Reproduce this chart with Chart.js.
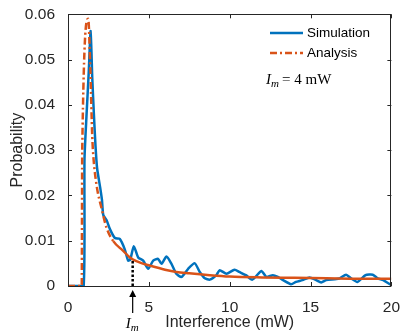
<!DOCTYPE html>
<html><head><meta charset="utf-8">
<script src="https://cdn.jsdelivr.net/npm/chart.js@4"></script>
<style>html,body{margin:0;padding:0;background:#fff}#wrap{width:404px;height:336px}</style>
</head><body><div id="wrap"><canvas id="c" width="404" height="336"></canvas></div>
<script>
const simX = [0,0.5,0.97,1.02,1.15,1.28,1.4,1.5,1.6,1.7,1.8,2.0,2.1,2.18,2.39,2.6,2.9,3.2,3.5,3.72,3.85,4.07,4.34,4.65,4.96,5.27,5.57,5.78,6.09,6.4,6.7,7.02,7.43,7.84,8.15,8.46,8.77,9.18,9.38,9.8,10.3,10.6,11.0,11.4,11.96,12.27,12.67,12.98,13.3,13.8,14.1,14.5,14.94,15.35,15.66,15.97,16.5,16.8,17.2,17.5,17.9,18.4,18.85,19.15,19.5,19.9,20];
const simY = [0,0,0,0.028,0.038,0.047,0.0563,0.046,0.038,0.031,0.026,0.0215,0.019,0.0157,0.0145,0.0125,0.0106,0.0104,0.0082,0.0056,0.0058,0.0088,0.0063,0.0056,0.0038,0.0056,0.006,0.0049,0.0065,0.0049,0.0027,0.002,0.0038,0.005,0.0031,0.0017,0.0014,0.0024,0.0035,0.0027,0.0036,0.0031,0.0024,0.0014,0.0033,0.002,0.0024,0.002,0.0013,0.0004,0.0009,0.0013,0.0019,0.0013,0.0008,0.0013,0.0015,0.0017,0.0025,0.0017,0.0009,0.0024,0.0025,0.0017,0.0013,0.0004,0.0004];
const anaX = [0,0.85,0.88,1.25,1.38,1.5,1.56,1.77,2.08,2.39,2.8,3.4,3.83,4,4.5,5.06,6,6.7,7.5,8.77,10,12,14,16,18,20];
const anaY = [0,0,0.03,0.059,0.048,0.033,0.029,0.0222,0.0171,0.0128,0.0099,0.0078,0.0063,0.0059,0.0051,0.0045,0.0036,0.0031,0.0028,0.0024,0.0021,0.0019,0.0018,0.0017,0.0016,0.0016];
const xTicks = [0,5,10,15,20];
const yTicks = [0,0.01,0.02,0.03,0.04,0.05,0.06];
const seriesNames = ['Simulation','Analysis'];
const markerX = 4;
const markerY = 0.0059;

const BLUE = '#0072BD', RED = '#D95319';
const SANS = '"Liberation Sans", Arial, sans-serif';
const SERIF = '"Liberation Serif", "Times New Roman", serif';

const deco = {
  id: 'deco',
  afterDatasetsDraw(chart) {
    const {ctx, chartArea: a, scales: {x, y}} = chart;
    ctx.save();
    ctx.strokeStyle = '#000'; ctx.lineWidth = 2.5; ctx.setLineDash([2.5, 2]);
    const mx = x.getPixelForValue(markerX);
    ctx.beginPath(); ctx.moveTo(mx, y.getPixelForValue(0)); ctx.lineTo(mx, y.getPixelForValue(markerY)); ctx.stroke();
    ctx.setLineDash([]);
    ctx.strokeStyle = '#262626'; ctx.lineWidth = 1;
    ctx.strokeRect(Math.round(a.left)+0.5, Math.round(a.top)+0.5, Math.round(a.right-a.left)-1, Math.round(a.bottom-a.top));
    ctx.beginPath();
    xTicks.forEach(v => { const p = Math.round(x.getPixelForValue(v))+0.5; ctx.moveTo(p, a.bottom); ctx.lineTo(p, a.bottom-4); ctx.moveTo(p, a.top); ctx.lineTo(p, a.top+4); });
    yTicks.forEach(v => { const p = Math.round(y.getPixelForValue(v))+0.5; ctx.moveTo(a.left, p); ctx.lineTo(a.left+4, p); ctx.moveTo(a.right, p); ctx.lineTo(a.right-4, p); });
    ctx.stroke();
    ctx.strokeStyle = '#000'; ctx.fillStyle = '#000'; ctx.lineWidth = 1.2;
    ctx.beginPath(); ctx.moveTo(mx, a.bottom+27); ctx.lineTo(mx, a.bottom+9); ctx.stroke();
    ctx.beginPath(); ctx.moveTo(mx, a.bottom+4); ctx.lineTo(mx-3.5, a.bottom+11); ctx.lineTo(mx+3.5, a.bottom+11); ctx.closePath(); ctx.fill();
    ctx.textBaseline = 'alphabetic'; ctx.textAlign = 'left';
    ctx.font = 'italic 15px ' + SERIF; ctx.fillText('I', mx-7, a.bottom+42);
    ctx.font = 'italic 11px ' + SERIF; ctx.fillText('m', mx-2, a.bottom+45);
    const lx = 270, ly1 = 33, ly2 = 53;
    ctx.lineWidth = 2.5;
    ctx.strokeStyle = BLUE; ctx.beginPath(); ctx.moveTo(lx, ly1); ctx.lineTo(lx+33, ly1); ctx.stroke();
    ctx.strokeStyle = RED; ctx.setLineDash([7,3,2,3]); ctx.beginPath(); ctx.moveTo(lx, ly2); ctx.lineTo(lx+33, ly2); ctx.stroke();
    ctx.setLineDash([]);
    ctx.fillStyle = '#000'; ctx.font = '13.5px ' + SANS; ctx.textBaseline = 'middle';
    ctx.fillText(seriesNames[0], lx+37, ly1);
    ctx.fillText(seriesNames[1], lx+37, ly2);
    ctx.textBaseline = 'alphabetic';
    ctx.font = 'italic 15px ' + SERIF; ctx.fillText('I', 266, 84);
    ctx.font = 'italic 11px ' + SERIF; ctx.fillText('m', 271, 87);
    ctx.font = '15px ' + SERIF; ctx.fillText('= 4 mW', 282, 84);
    ctx.restore();
  }
};

new Chart(document.getElementById('c'), {
  type: 'line',
  data: {
    datasets: [
      { label: seriesNames[0], data: simX.map((v,i)=>({x:v,y:simY[i]})), borderColor: BLUE, borderWidth: 2.5, pointRadius: 0, tension: 0.2, order: 1, fill: false },
      { label: seriesNames[1], data: anaX.map((v,i)=>({x:v,y:anaY[i]})), borderColor: RED, borderWidth: 2.5, pointRadius: 0, cubicInterpolationMode: 'monotone', order: 0, fill: false,
        segment: { borderDash: c => (c.p0.parsed.x < 2.4 ? [7,3,2,3] : undefined) } }
    ]
  },
  options: {
    responsive: false, animation: false, devicePixelRatio: 1,
    layout: { padding: { top: 8, right: 12, left: 0, bottom: 0 } },
    plugins: { legend: { display: false }, tooltip: { enabled: false } },
    scales: {
      x: {
        type: 'linear', min: 0, max: 20,
        afterBuildTicks: s => { s.ticks = xTicks.map(v => ({value: v})); },
        afterFit: s => { s.height = 50; },
        grid: { display: false }, border: { display: false },
        ticks: { padding: 4, color: '#262626', font: { family: SANS, size: 15.5 }, maxRotation: 0 },
        title: { display: true, text: 'Interference (mW)', color: '#262626', font: { family: SANS, size: 16 }, padding: { top: 0, bottom: 4 } }
      },
      y: {
        type: 'linear', min: 0, max: 0.06,
        afterBuildTicks: s => { s.ticks = yTicks.map(v => ({value: v})); },
        afterFit: s => { s.width = 68; },
        grid: { display: false }, border: { display: false },
        ticks: { padding: 5, color: '#262626', font: { family: SANS, size: 15.5 }, callback: v => String(Number(v.toFixed(2))) },
        title: { display: true, text: 'Probability', color: '#262626', font: { family: SANS, size: 16 }, padding: { top: 8, bottom: 0 } }
      }
    }
  },
  plugins: [deco]
});
</script></body></html>
